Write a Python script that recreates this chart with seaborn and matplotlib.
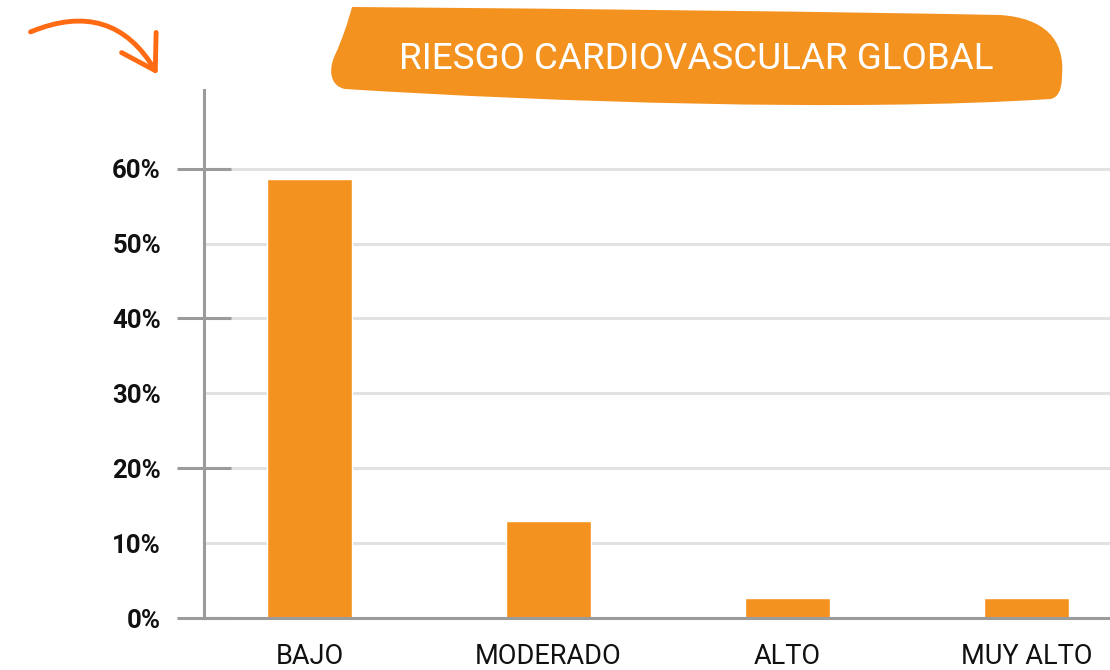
import matplotlib
matplotlib.use('Agg')
import matplotlib.pyplot as plt
import seaborn as sns
from matplotlib.path import Path
from matplotlib.patches import PathPatch, FancyArrowPatch
from matplotlib.transforms import Affine2D

categories = ['BAJO', 'MODERADO', 'ALTO', 'MUY ALTO']
values = [58.6, 13.0, 2.7, 2.7]
yticks = [0, 10, 20, 30, 40, 50, 60]
ytick_labels = ['0%', '10%', '20%', '30%', '40%', '50%', '60%']
title = 'RIESGO CARDIOVASCULAR GLOBAL'

orange = '#F4921F'
arrow_orange = '#FF6A13'
axis_grey = '#9B9B9B'
grid_grey = '#E2E2E2'

sns.set_style('white')
plt.rcParams['font.family'] = ['Roboto', 'DejaVu Sans']

W, H = 1110, 670
fig = plt.figure(figsize=(W / 100, H / 100), dpi=100)
ax = fig.add_axes([204 / W, (H - 618) / H, 1 - 204 / W, (618 - 90) / H])

sns.barplot(x=categories, y=values, color=orange, saturation=1, width=0.356, ax=ax, zorder=2)

ax.set_xlim(-0.441, 3.349)
ax.set_ylim(0, 70.5)
ax.set_xlabel('')
ax.set_ylabel('')

# labels + grid on every 10%, tick marks only on 0/20/40/60
ax.yaxis.remove_overlapping_locs = False
ax.set_yticks(yticks)
ax.set_yticklabels(ytick_labels, fontsize=18.5, fontweight='semibold', color='#111111')
ax.set_yticks([0, 20, 40, 60], minor=True)
ax.tick_params(axis='y', which='major', left=False, length=0, pad=31)
ax.tick_params(axis='y', which='minor', left=True, labelleft=False, length=39, width=2.2,
               color=axis_grey, direction='inout')
ax.tick_params(axis='x', length=0, pad=18, labelsize=19.5, labelcolor='#111111')
ax.yaxis.grid(True, which='major', color=grid_grey, lw=2.2)
ax.set_axisbelow(True)

for side in ['top', 'right']:
    ax.spines[side].set_visible(False)
for side in ['left', 'bottom']:
    ax.spines[side].set_color(axis_grey)
    ax.spines[side].set_linewidth(2.2)
    ax.spines[side].set_zorder(3)

# pixel coords measured from the top-left corner
px = Affine2D().scale(1 / W, -1 / H).translate(0, 1) + fig.transFigure

verts = [(352, 7),
         (600, 9), (850, 12), (1000, 15),
         (1045, 18), (1065, 40), (1062, 75),
         (1062, 90), (1058, 98), (1050, 99),
         (850, 112), (550, 102), (345, 89),
         (330, 86), (328, 70), (335, 55),
         (342, 40), (348, 22), (352, 7),
         (352, 7)]
codes = [Path.MOVETO] + [Path.CURVE4] * 18 + [Path.CLOSEPOLY]
banner = PathPatch(Path(verts, codes), facecolor=orange, edgecolor='none', transform=px)
fig.add_artist(banner)

fig.text(696 / W, 1 - 59 / H, title, transform=fig.transFigure, ha='center', va='center',
         color='white', fontsize=26.5, family=['Roboto', 'DejaVu Sans'])

arrow = FancyArrowPatch((28, 33), (159, 77), connectionstyle='arc3,rad=-0.45',
                        arrowstyle='->,head_length=1.3,head_width=0.8', mutation_scale=18,
                        lw=3.5, color=arrow_orange, transform=px, capstyle='round')
fig.add_artist(arrow)

fig.savefig('out.png', dpi=100)
